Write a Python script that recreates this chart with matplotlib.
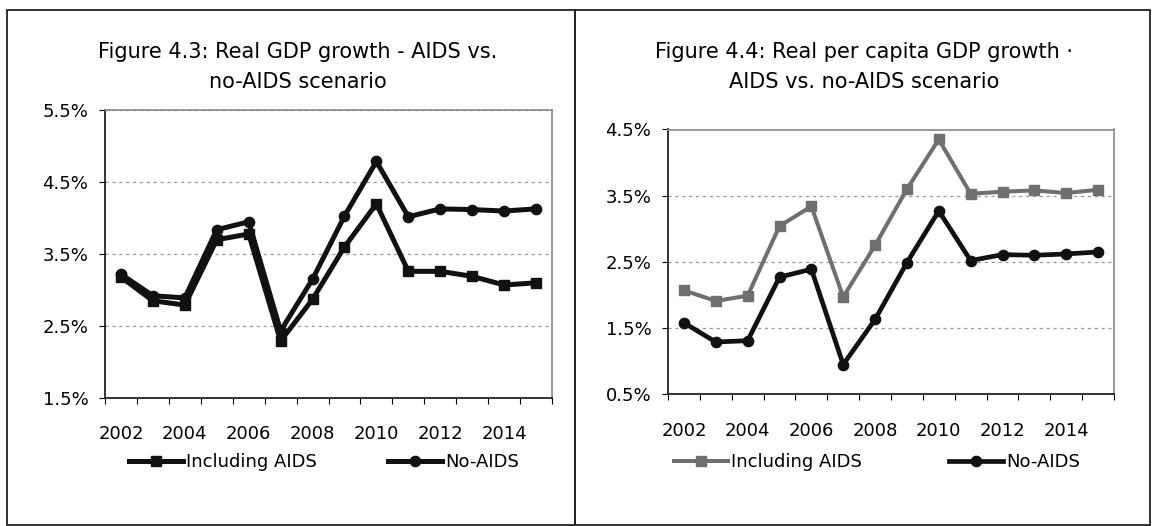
import matplotlib.pyplot as plt
from matplotlib.patches import Rectangle
from matplotlib.ticker import FixedLocator, FuncFormatter
import numpy as np

plt.rcParams['font.family'] = ['DejaVu Sans']

# Data
years = list(range(2002, 2016))
year_labels = ['2002', '2004', '2006', '2008', '2010', '2012', '2014']

gdp_with_aids = [3.18, 2.85, 2.79, 3.70, 3.78, 2.29, 2.87, 3.60, 4.20, 3.26, 3.26, 3.19, 3.07, 3.10]
gdp_no_aids = [3.22, 2.92, 2.89, 3.84, 3.95, 2.43, 3.15, 4.03, 4.79, 4.02, 4.13, 4.12, 4.10, 4.13]

pc_with_aids = [2.07, 1.91, 1.99, 3.04, 3.34, 1.97, 2.75, 3.60, 4.35, 3.53, 3.56, 3.58, 3.54, 3.59]
pc_no_aids = [1.58, 1.29, 1.31, 2.27, 2.39, 0.95, 1.63, 2.49, 3.27, 2.52, 2.61, 2.60, 2.62, 2.65]

W, H = 1152, 526
FS = 13
TITLE_FS = 15
fig = plt.figure(figsize=(W / 100, H / 100), dpi=100)


def px_box(x0, y0, x1, y1):
    # pixel box (top-left origin) -> figure fraction rect
    return [x0 / W, 1 - y1 / H, (x1 - x0) / W, (y1 - y0) / H]


# Panel frames
for x0, x1 in [(7, 575), (575, 1150)]:
    fig.add_artist(Rectangle((x0 / W, 1 - 525 / H), (x1 - x0) / W, 515 / H,
                             transform=fig.transFigure, fill=False,
                             edgecolor='#222222', linewidth=1.3))


def style_axes(ax, ymin, ymax):
    n = len(years)
    ax.set_xlim(-0.5, n - 0.5)
    ax.set_ylim(ymin, ymax)
    ax.set_yticks(np.arange(ymin, ymax + 0.01, 1.0))
    ax.yaxis.set_major_formatter(FuncFormatter(lambda v, p: f'{v:.1f}%'))
    ax.set_xticks([years.index(int(y)) for y in year_labels])
    ax.set_xticklabels(year_labels)
    ax.xaxis.set_minor_locator(FixedLocator(np.arange(-0.5, n, 1.0)))
    ax.tick_params(axis='x', which='major', length=0, pad=20, labelsize=FS)
    ax.tick_params(axis='x', which='minor', length=4, width=0.8, direction='out')
    ax.tick_params(axis='y', length=4, width=0.8, pad=8, labelsize=FS)
    for side in ['top', 'right']:
        ax.spines[side].set_color('#888888')
        ax.spines[side].set_linewidth(1.2)
    for side in ['left', 'bottom']:
        ax.spines[side].set_color('#111111')
        ax.spines[side].set_linewidth(1.2)
    ax.yaxis.grid(True, color='#999999', linestyle=(0, (2.5, 3)), linewidth=0.9)
    ax.set_axisbelow(True)


x = np.arange(len(years))

# Figure 4.3
ax1 = fig.add_axes(px_box(105, 110.5, 552, 397.7))
style_axes(ax1, 1.5, 5.5)
ax1.plot(x, gdp_with_aids, color='#111111', lw=3.6, marker='s', ms=7.2, label='Including AIDS')
ax1.plot(x, gdp_no_aids, color='#111111', lw=3.6, marker='o', ms=7.4, label='No-AIDS')
fig.text(298 / W, 1 - 52 / H, 'Figure 4.3: Real GDP growth - AIDS vs.', ha='center', va='center', fontsize=TITLE_FS)
fig.text(298 / W, 1 - 82 / H, 'no-AIDS scenario', ha='center', va='center', fontsize=TITLE_FS)
ax1.legend(loc='center', bbox_to_anchor=(324 / W, 1 - 462 / H), bbox_transform=fig.transFigure,
           ncol=2, frameon=False, fontsize=FS, handlelength=3.0, handletextpad=0.2,
           columnspacing=3.9, borderpad=0)

# Figure 4.4
ax2 = fig.add_axes(px_box(668, 129.5, 1114, 394.3))
style_axes(ax2, 0.5, 4.5)
ax2.plot(x, pc_with_aids, color='#6f6f6f', lw=2.9, marker='s', ms=7.2, label='Including AIDS')
ax2.plot(x, pc_no_aids, color='#111111', lw=3.4, marker='o', ms=7.4, label='No-AIDS')
fig.text(864 / W, 1 - 52 / H, 'Figure 4.4: Real per capita GDP growth \u00b7', ha='center', va='center', fontsize=TITLE_FS)
fig.text(864 / W, 1 - 82 / H, 'AIDS vs. no-AIDS scenario', ha='center', va='center', fontsize=TITLE_FS)
ax2.legend(loc='center', bbox_to_anchor=(877 / W, 1 - 462 / H), bbox_transform=fig.transFigure,
           ncol=2, frameon=False, fontsize=FS, handlelength=3.0, handletextpad=0.2,
           columnspacing=4.8, borderpad=0)

fig.savefig('out.png', dpi=100)
